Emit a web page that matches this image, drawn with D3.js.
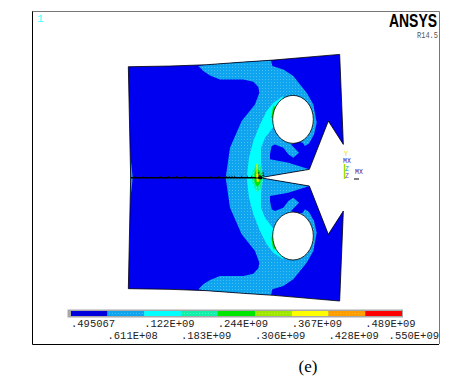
<!DOCTYPE html>
<html>
<head>
<meta charset="utf-8">
<script src="https://cdn.jsdelivr.net/npm/d3@7/dist/d3.min.js"></script>
<style>
  html, body { margin: 0; padding: 0; background: #fff; }
  svg { display: block; }
</style>
</head>
<body>
<div id="chart"></div>
<script>
// Contour plot, upper half of the specimen only: the lower half is its mirror
// about the crack line. Units are tracing units,
// x from the left, y up from the crack.
const outline = [[62,0],[55,333],[180,335],[290,339],[400,347],[490,353],[689,370],[700,100],[655,170],[598,25],[450,0]]
const bandLightBlue = [[265,335],[280,320],[300,307],[330,295],[400,295],[430,288],[445,272],[448,255],[435,220],[395,170],[360,90],[347,0],[450,0],[598,25],[535,45],[480,55],[480,70],[485,95],[495,100],[520,90],[535,70],[550,60],[567,75],[543,100],[560,110],[578,105],[585,95],[597,103],[612,130],[620,165],[610,220],[590,255],[570,280],[550,305],[520,325],[487,335],[483,352],[400,347],[290,339]]
const bandCyan = [[410,0],[417,60],[430,110],[450,160],[470,200],[490,225],[520,245],[510,170],[488,150],[465,120],[453,90],[453,50],[457,0]]
const bandEdgeSliver = [[62,0],[60,55],[64,40],[68,0]]
const bandHoleAqua = [[490,222],[482,180],[488,165],[500,200]]
const bandHoleGreen = [[490,215],[484,180],[490,180],[496,212]]
const bandTipAqua = [[425,0],[428,20],[440,42],[450,38],[456,25],[460,0]]
const bandTipGreen = [[433,0],[434,15],[442,28],[450,18],[453,0]]
const bandTipYellow = [[439,0],[440,12],[447,12],[450,0]]
const hole = { cx: 549, cy: 175, rx: 61, ry: 72 }
const crackTicks = [75,100,125,150,175,200,225,250,275,300,325,350,358,366,374,395,412,425]

// Legend: ten contour limits, nine colours between them
const legendValues = [495067, 61.1e6, 122e6, 183e6, 244e6, 306e6, 367e6, 428e6, 489e6, 550e6]
const legendLabels = [".495067", ".611E+08", ".122E+09", ".183E+09", ".244E+09", ".306E+09", ".367E+09", ".428E+09", ".489E+09", ".550E+09"]
const legendFills = ["#0000dc", "url(#dLightBlue)", "#00ffff", "url(#dAqua)", "#00e600", "url(#dLime)", "#ffff00", "url(#dOrange)", "#ff0000"]

const W = 473, H = 386
const svg = d3.select("#chart").append("svg").attr("width", W).attr("height", H)

// Dithered colours, the stipple of the plot's 8-bit palette
const defs = svg.append("defs")
const dither = (id, base, dot) => {
  const p = defs.append("pattern").attr("id", id).attr("width", 3).attr("height", 3)
    .attr("patternUnits", "userSpaceOnUse")
  p.append("rect").attr("width", 3).attr("height", 3).attr("fill", base)
  p.append("rect").attr("x", 1).attr("y", 1).attr("width", 1).attr("height", 1).attr("fill", dot)
}
dither("dLightBlue", "#0fa4f0", "#45c0f5")
dither("dAqua", "#10f0a8", "#50ffc8")
dither("dLime", "#9ce800", "#c8f020")
dither("dOrange", "#ff9c00", "#ffb820")

// Scales: tracing units to page pixels
const x = d3.scaleLinear().domain([0, 780]).range([110, 370])
const y = d3.scaleLinear().domain([0, 385]).range([177.7, 49.4])
const path = d3.line().x(d => x(d[0])).y(d => y(d[1]))
const mirror = pts => pts.map(d => [d[0], -d[1]])

const frame = svg.append("g").attr("fill", "none")
frame.append("path").attr("d", "M32.5,11V344.5H439").attr("stroke", "#000")
frame.append("path").attr("d", "M32.5,11.5H439.5V344").attr("stroke", "#777")

svg.append("text").attr("x", 37).attr("y", 22).attr("fill", "#40ffff")
  .attr("font-family", "Liberation Mono").attr("font-size", 11).text("1")
svg.append("text").attr("x", 437).attr("y", 27).attr("text-anchor", "end")
  .attr("font-family", "Liberation Sans").attr("font-weight", 700).attr("font-size", 19)
  .attr("textLength", 48).attr("lengthAdjust", "spacingAndGlyphs").text("ANSYS")
svg.append("text").attr("x", 438).attr("y", 37.5).attr("text-anchor", "end").attr("fill", "#555")
  .attr("font-family", "Liberation Mono").attr("font-size", 8.5)
  .attr("textLength", 21).attr("lengthAdjust", "spacingAndGlyphs").text("R14.5")

// Specimen: base colour, bands painted from low to high stress
const fullOutline = outline.concat(mirror(outline).slice(1, -1).reverse())
const plot = svg.append("g")
plot.append("path").attr("d", path(fullOutline) + "Z").attr("fill", "#0000f0")

const bands = [
  [bandLightBlue, "url(#dLightBlue)"],
  [bandEdgeSliver, "#10b0e0"],
  [bandCyan, "#00ffff"],
  [bandHoleAqua, "url(#dAqua)"],
  [bandHoleGreen, "#00e600"],
  [bandTipAqua, "url(#dAqua)"],
  [bandTipGreen, "#00e600"],
  [bandTipYellow, "#e8f000"],
]
bands.forEach(([pts, fill]) => {
  plot.append("path").attr("d", path(pts) + "Z").attr("fill", fill)
  plot.append("path").attr("d", path(mirror(pts)) + "Z").attr("fill", fill)
})

// Holes
;[1, -1].forEach(s => {
  plot.append("ellipse")
    .attr("cx", x(hole.cx)).attr("cy", y(s * hole.cy))
    .attr("rx", x(hole.cx + hole.rx) - x(hole.cx))
    .attr("ry", y(0) - y(hole.ry))
    .attr("fill", "#fff").attr("stroke", "#000").attr("stroke-width", 0.8)
})

plot.append("path").attr("d", path(fullOutline) + "Z")
  .attr("fill", "none").attr("stroke", "#000").attr("stroke-width", 0.8)

// Crack line with its path marks and the tip marker
plot.append("path").attr("d", path([[62, 0], [450, 0]])).attr("stroke", "#000").attr("stroke-width", 1.6)
plot.selectAll("line.tick").data(crackTicks).join("line").attr("class", "tick")
  .attr("x1", d => x(d)).attr("x2", d => x(d))
  .attr("y1", y(0)).attr("y2", y(6)).attr("stroke", "#000").attr("stroke-width", 0.7)
plot.append("path").attr("d", path([[441, 0], [441, 42]])).attr("stroke", "#f0f000").attr("stroke-width", 1.2)
plot.append("path").attr("d", path([[445, 0], [456, 0]])).attr("stroke", "#000").attr("stroke-width", 3)
plot.append("text").attr("x", x(443)).attr("y", y(4)).attr("font-family", "Liberation Mono")
  .attr("font-size", 6).attr("fill", "#000").text("L1")

// Global triad, tiny and multicoloured in the original
const triad = svg.append("g").attr("font-family", "Liberation Mono").attr("font-size", 6.5)
triad.append("text").attr("x", 344).attr("y", 156).attr("fill", "#e0d800").text("Y")
triad.append("text").attr("x", 343).attr("y", 163).attr("fill", "#4020c0").text("MX")
triad.append("path").attr("d", "M344.5,164V179").attr("stroke", "#a0e000").attr("stroke-width", 1.4)
triad.append("text").attr("x", 345).attr("y", 171).attr("fill", "#20a0a0").text("Z")
triad.append("text").attr("x", 345).attr("y", 178).attr("fill", "#8040c0").text("Z")
triad.append("text").attr("x", 355).attr("y", 174).attr("fill", "#602080").text("MX")
triad.append("path").attr("d", "M354,179H359").attr("stroke", "#000")

// Legend
const lx = d3.scaleLinear().domain(d3.extent(legendValues)).range([71, 402])
svg.append("rect").attr("x", 67.5).attr("y", 309.5).attr("width", 335.5).attr("height", 8)
  .attr("fill", "#a8a8a8")
svg.selectAll("rect.swatch").data(legendFills).join("rect").attr("class", "swatch")
  .attr("x", (_, i) => lx(legendValues[i]))
  .attr("width", (_, i) => lx(legendValues[i + 1]) - lx(legendValues[i]))
  .attr("y", 311).attr("height", 5)
  .attr("fill", d => d)

svg.selectAll("text.lab").data(legendLabels).join("text").attr("class", "lab")
  .attr("x", (_, i) => i === legendLabels.length - 1 ? 439 : lx(legendValues[i]))
  .attr("y", (_, i) => i % 2 ? 339 : 327)
  .attr("text-anchor", (_, i) => i === legendLabels.length - 1 ? "end" : "start")
  .attr("font-family", "Liberation Mono").attr("font-size", 10.5).attr("fill", "#222")
  .text(d => d)

svg.append("text").attr("x", 308).attr("y", 372).attr("text-anchor", "middle")
  .attr("font-family", "Liberation Serif").attr("font-size", 17).text("(e)")
</script>
</body>
</html>
